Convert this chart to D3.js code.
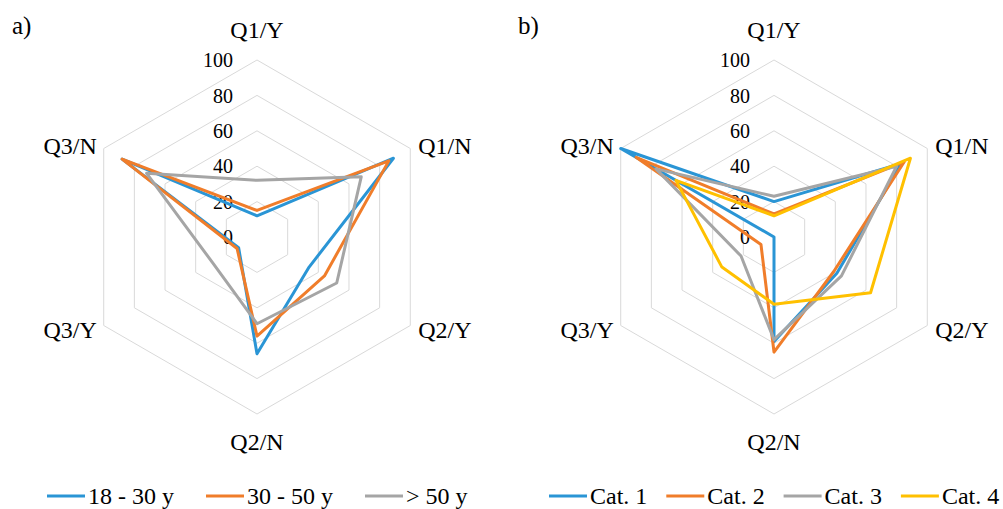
<!DOCTYPE html>
<html>
<head>
<meta charset="utf-8">
<script src="https://cdn.jsdelivr.net/npm/d3@7"></script>
<style>
  body { margin: 0; background: #fff; }
  text { font-family: "Liberation Serif", "DejaVu Serif", serif; fill: #000; }
</style>
</head>
<body>
<div id="chart"></div>
<script>
// axes (clockwise from top) and ring values
const axes = ["Q1/Y", "Q1/N", "Q2/Y", "Q2/N", "Q3/Y", "Q3/N"];
const ticks = [0, 20, 40, 60, 80, 100];

// panel a) age groups
const ageGroups = ["18 - 30 y", "30 - 50 y", "> 50 y"];
const age1830 = [12, 89, 34, 66, 12, 88];
const age3050 = [15, 86, 44, 56, 13, 88];
const ageOver50 = [32, 68, 52, 49, 29, 72];

// panel b) categories
const categories = ["Cat. 1", "Cat. 2", "Cat. 3", "Cat. 4"];
const cat1 = [20, 83, 41, 59, 0, 100];
const cat2 = [13, 85, 39, 65, 8.5, 90];
const cat3 = [23, 80, 44, 58, 21.5, 77];
const cat4 = [12, 89, 63, 38, 34, 64];

const colors = ["#2A95D5", "#F07D2A", "#A5A5A5", "#FFC000"];

const w = 1003, h = 509;
const R = 177;

const svg = d3.select("#chart").append("svg")
  .attr("width", w)
  .attr("height", h);

function radar(cx, cy, letter, series, names, legendX, legendStep) {
  const g = svg.append("g").attr("transform", "translate(" + cx + "," + cy + ")");
  const r = d3.scaleLinear().domain([0, 100]).range([0, R]);
  const angle = i => i * 2 * Math.PI / axes.length;

  const line = d3.lineRadial()
    .angle((d, i) => angle(i))
    .radius(d => r(d))
    .curve(d3.curveLinearClosed);

  // grid hexagons
  g.selectAll(".ring")
    .data(ticks.filter(t => t > 0))
    .enter()
    .append("path")
    .attr("class", "ring")
    .attr("d", t => line(axes.map(() => t)))
    .attr("fill", "none")
    .attr("stroke", "#d9d9d9")
    .attr("stroke-width", 1);

  // tick labels
  g.selectAll(".tick")
    .data(ticks)
    .enter()
    .append("text")
    .attr("x", -24)
    .attr("y", t => -r(t))
    .attr("dy", "0.36em")
    .attr("text-anchor", "end")
    .style("font-size", "20px")
    .text(t => t);

  // axis labels
  axes.forEach((a, i) => {
    const ang = angle(i);
    const vx = Math.sin(ang) * R, vy = -Math.cos(ang) * R;
    let x = vx, y = vy, anchor = "middle";
    if (Math.abs(vx) < 1) {
      y = vy < 0 ? vy - 22 : vy + 36;
    } else {
      x = vx > 0 ? vx + 8 : vx - 7;
      anchor = vx > 0 ? "start" : "end";
      y = vy < 0 ? vy + 5 : vy + 12;
    }
    g.append("text")
      .attr("x", x)
      .attr("y", y)
      .attr("text-anchor", anchor)
      .style("font-size", "24px")
      .text(a);
  });

  // series
  g.selectAll(".series")
    .data(series)
    .enter()
    .append("path")
    .attr("class", "series")
    .attr("d", d => line(d))
    .attr("fill", "none")
    .attr("stroke", (d, i) => colors[i])
    .attr("stroke-width", 3)
    .attr("stroke-linejoin", "round");

  // panel letter
  svg.append("text")
    .attr("x", letter === "a)" ? 12 : 518)
    .attr("y", 34)
    .style("font-size", "25px")
    .text(letter);

  // legend
  const lg = svg.append("g");
  names.forEach((n, i) => {
    const x = legendX + i * legendStep;
    lg.append("line")
      .attr("x1", x).attr("x2", x + 38)
      .attr("y1", 496).attr("y2", 496)
      .attr("stroke", colors[i])
      .attr("stroke-width", 3);
    lg.append("text")
      .attr("x", x + 41)
      .attr("y", 504)
      .style("font-size", "24px")
      .text(n);
  });
}

radar(257, 237, "a)", [age1830, age3050, ageOver50], ageGroups, 47, 159);
radar(774, 237, "b)", [cat1, cat2, cat3, cat4], categories, 549, 117.3);
</script>
</body>
</html>
